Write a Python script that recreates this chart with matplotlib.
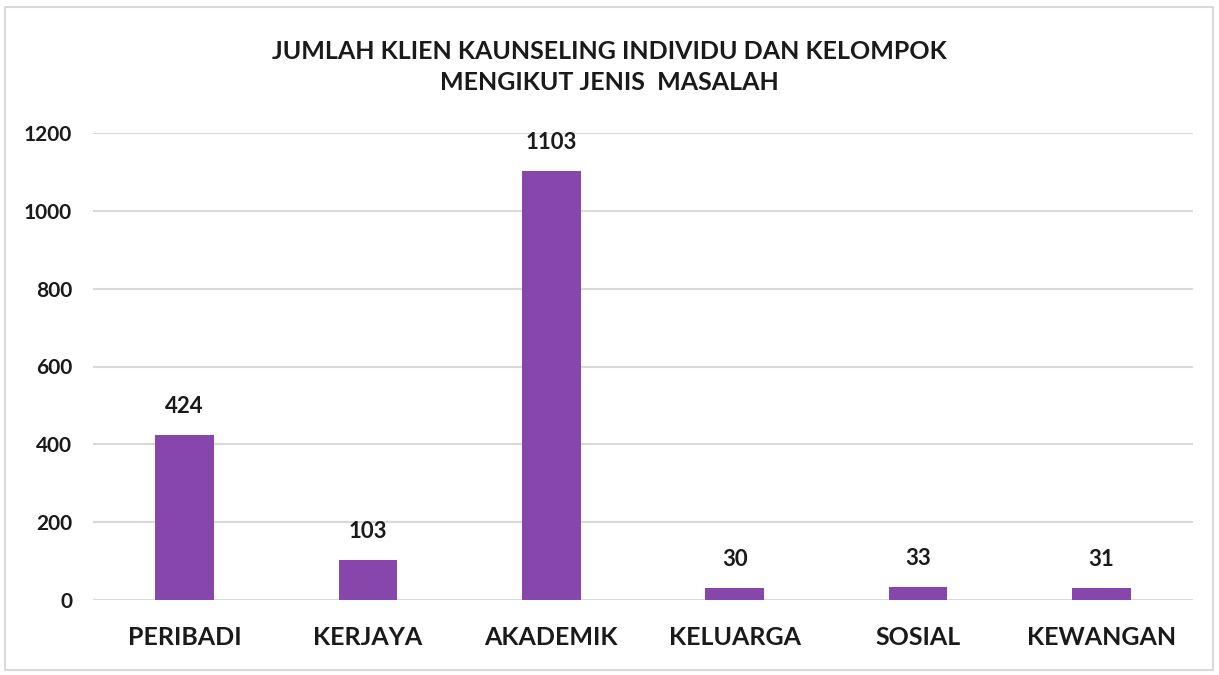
import matplotlib.pyplot as plt
from matplotlib.patches import Rectangle

categories = ["PERIBADI", "KERJAYA", "AKADEMIK", "KELUARGA", "SOSIAL", "KEWANGAN"]
values = [424, 103, 1103, 30, 33, 31]
title = "JUMLAH KLIEN KAUNSELING INDIVIDU DAN KELOMPOK\nMENGIKUT JENIS  MASALAH"

plt.rcParams["font.family"] = ["Lato", "DejaVu Sans"]

fig = plt.figure(figsize=(12.19, 6.75), dpi=100)
ax = fig.add_axes([93 / 1219, 75 / 675, 1100 / 1219, 467 / 675])

x = range(len(categories))
bars = ax.bar(x, values, width=0.32, color="#8646AB", zorder=3)
for b, v in zip(bars, values):
    ax.annotate(str(v), (b.get_x() + b.get_width() / 2, v), xytext=(0, 13),
                textcoords="offset points", ha="center", va="bottom",
                fontsize=16, fontweight="bold", color="#1a1a1a")

ax.set_xlim(-0.5, len(categories) - 0.5)
ax.set_ylim(0, 1200)
ax.set_yticks(range(0, 1201, 200))
ax.set_xticks(list(x))
ax.set_xticklabels(categories, fontsize=18, fontweight="bold", color="#1a1a1a")
ax.tick_params(axis="y", labelsize=15, length=0, pad=15, labelcolor="#1a1a1a")
ax.tick_params(axis="x", length=0, pad=19)
for lbl in ax.get_yticklabels():
    lbl.set_fontweight("bold")
ax.grid(axis="y", color="#d9d9d9", linewidth=1.5, zorder=0)
for s in ax.spines.values():
    s.set_visible(False)

fig.text(0.5, 1 - 67 / 675, title, ha="center", va="center", fontsize=18,
         fontweight="bold", color="#1a1a1a", linespacing=1.45)

fig.patches.append(Rectangle((5 / 1219, 5 / 675), 1208 / 1219, 663 / 675,
                             transform=fig.transFigure, fill=False,
                             edgecolor="#d9d9d9", linewidth=1.5))

fig.savefig("out.png", dpi=100)
